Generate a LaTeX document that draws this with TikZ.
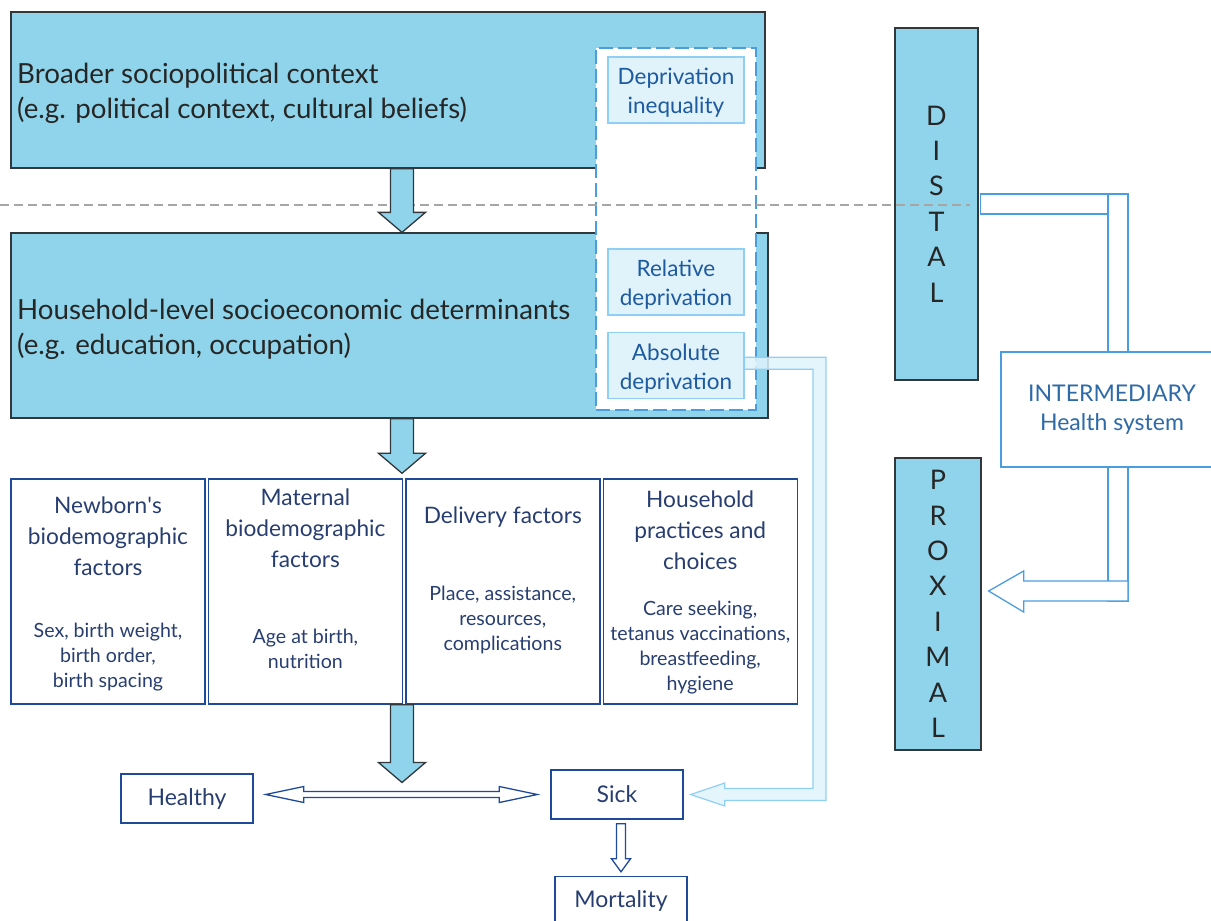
\documentclass[tikz,border=0pt]{standalone}
\usepackage{fontspec}
\setmainfont{Lato}
\usetikzlibrary{positioning, calc}

\definecolor{skyfill}{RGB}{143,212,234}
\definecolor{paleblue}{RGB}{224,243,251}
\definecolor{paleedge}{RGB}{144,207,245}
\definecolor{navy}{RGB}{31,74,154}
\definecolor{navytext}{RGB}{40,62,112}
\definecolor{midblue}{RGB}{74,158,224}
\definecolor{deptext}{RGB}{30,90,160}
\definecolor{intertext}{RGB}{46,106,168}
\definecolor{darkedge}{RGB}{50,55,60}

\newcommand{\fatdown}[2]{%
  \draw[fatarrow] let \p1=#1, \p2=#2 in
    (\x1-11.5pt,\y1) -- (\x1-11.5pt,\y2+20pt) -- (\x1-23.5pt,\y2+20pt) -- (\x1,\y2)
    -- (\x1+23.5pt,\y2+20pt) -- (\x1+11.5pt,\y2+20pt) -- (\x1+11.5pt,\y1) -- cycle;}

\begin{document}
\begin{tikzpicture}[x=1pt, y=-1pt,
  bigbox/.style={draw=darkedge, fill=skyfill, line width=1.3pt, inner sep=0pt},
  bigtext/.style={text=black!85, font=\fontsize{27.7}{35}\selectfont, align=left, inner sep=0pt},
  depbox/.style={draw=paleedge, fill=paleblue, line width=1.2pt, minimum width=136pt, minimum height=66pt,
    text=deptext, align=center, font=\fontsize{22.5}{29}\selectfont, inner sep=0pt},
  deptxt/.style={text=deptext, align=center, font=\fontsize{22.5}{29}\selectfont, inner sep=0pt},
  factbox/.style={draw=navy, line width=1.4pt, minimum width=194pt, minimum height=225pt, inner sep=0pt},
  facttitle/.style={text=navytext, align=center, font=\fontsize{22.7}{31}\selectfont, inner sep=0pt},
  factsub/.style={text=navytext, align=center, font=\fontsize{19.6}{25}\selectfont, inner sep=0pt},
  statebox/.style={draw=navy, line width=1.4pt, minimum width=132pt, minimum height=49pt,
    text=navytext, font=\fontsize{23}{26}\selectfont},
  levelbar/.style={draw=darkedge, fill=skyfill, line width=1.3pt, text=black!85, align=center,
    font=\fontsize{27}{35.4}\selectfont},
  fatarrow/.style={draw=darkedge, fill=skyfill, line width=1.3pt},
  hollow/.style={draw=navy, fill=white, line width=1.3pt},
  healtharrow/.style={draw=midblue, fill=white, line width=1.3pt},
  paleconn/.style={draw=paleedge, fill=paleblue, fill opacity=.85, line width=1.2pt}]

\useasboundingbox (0,0) rectangle (1211,921);

\coordinate (ax) at (402,0);
\coordinate (turnx) at (819.5,0);
\coordinate (vx) at (1118,0);

\node[bigbox, minimum width=754pt, minimum height=156pt] (broad) at (388,90) {};
\node[bigtext, anchor=west] (broadtxt) at (17,93.5) {Broader sociopolitical context\\(e.g. political context, cultural beliefs)};
\node[bigbox, minimum width=757pt, minimum height=185pt] (house) at (389.5,325.5) {};
\node[bigtext, anchor=west] (housetxt) at (17,329.5) {Household-level socioeconomic determinants\\(e.g. education, occupation)};

\node[draw=midblue, dash pattern=on 14pt off 5pt, line width=1.6pt, fill=white,
  minimum width=160pt, minimum height=362pt] (depframe) at (676,229) {};
\node[depbox] (ineq) at (676,90) {};
\node[depbox] (rel) at (676,282) {};
\node[depbox, below=16pt of rel] (abs) {};
\node[deptxt] (ineqtxt) at ($(ineq)+(0,3)$) {Deprivation\\inequality};
\node[deptxt] (reltxt) at ($(rel)+(0,3)$) {Relative\\deprivation};
\node[deptxt] (abstxt) at ($(abs)+(0,3)$) {Absolute\\deprivation};

\node[levelbar, minimum width=83pt, minimum height=352pt] (distal) at (936.5,204) {D\\I\\S\\T\\A\\L};
\node[levelbar, minimum width=86pt, minimum height=292pt] (proximal) at (938,604) {P\\R\\O\\X\\I\\M\\A\\L};

\draw[gray!70, dashed, dash pattern=on 9pt off 5pt, line width=1.2pt] (0,205) -- (970,205);

\node[factbox] (f1) at (108,591.5) {};
\node[factbox, right=2pt of f1] (f2) {};
\node[factbox, right=2pt of f2] (f3) {};
\node[factbox, right=2pt of f3] (f4) {};
\node[facttitle] (t1) at ($(f1.north)+(0,58)$) {Newborn\textquotesingle s\\biodemographic\\factors};
\node[factsub] (s1) at ($(f1.north)+(0,179)$) {Sex, birth weight,\\birth order,\\birth spacing};
\node[facttitle] (t2) at ($(f2.north)+(0,50)$) {Maternal\\biodemographic\\factors};
\node[factsub] (s2) at ($(f2.north)+(0,171)$) {Age at birth,\\nutrition};
\node[facttitle] (t3) at ($(f3.north)+(0,39)$) {Delivery factors};
\node[factsub] (s3) at ($(f3.north)+(0,142)$) {Place, assistance,\\resources,\\complications};
\node[facttitle] (t4) at ($(f4.north)+(0,52)$) {Household\\practices and\\choices};
\node[factsub] (s4) at ($(f4.north)+(0,169)$) {Care seeking,\\tetanus vaccinations,\\breastfeeding,\\hygiene};

\node[statebox] (healthy) at (187,798.5) {Healthy};
\node[statebox] (sick) at (617,794.5) {Sick};
\node[statebox] (mort) at (621,901) {Mortality};

\fatdown{(broad.south -| ax)}{(house.north -| ax)}
\fatdown{(house.south -| ax)}{($(f2.north -| ax)+(0,-5)$)}
\fatdown{(f2.south -| ax)}{($(sick.west -| ax)+(0,-12)$)}

\draw[hollow] let \p1=($(healthy.east)+(12,0)$), \p2=($(sick.west)+(-13,0)$) in
  (\x1,\y2) -- (\x1+38pt,\y2+8pt) -- (\x1+38pt,\y2+3pt) -- (\x2-38pt,\y2+3pt) -- (\x2-38pt,\y2+8pt)
  -- (\x2,\y2) -- (\x2-38pt,\y2-8pt) -- (\x2-38pt,\y2-3pt) -- (\x1+38pt,\y2-3pt) -- (\x1+38pt,\y2-8pt) -- cycle;
\draw[hollow] let \p1=($(sick.south -| mort.north)+(0,4)$), \p2=($(mort.north)+(0,-4)$) in
  (\x1-4.5pt,\y1) -- (\x1-4.5pt,\y2+13pt) -- (\x1-9.5pt,\y2+13pt) -- (\x2,\y2)
  -- (\x1+9.5pt,\y2+13pt) -- (\x1+4.5pt,\y2+13pt) -- (\x1+4.5pt,\y1) -- cycle;

\draw[paleconn] let \p1=($(abs.east)+(0,-2)$), \p2=($(sick.east)+(7,0)$), \p3=(turnx) in
  (\x1,\y1+6pt) -- (\x3+6.5pt,\y1+6pt) -- (\x3+6.5pt,\y2-6pt) -- (\x2+34pt,\y2-6pt) -- (\x2+34pt,\y2-11.5pt)
  -- (\x2,\y2) -- (\x2+34pt,\y2+11.5pt) -- (\x2+34pt,\y2+6pt) -- (\x3-6.5pt,\y2+6pt) -- (\x3-6.5pt,\y1-6pt)
  -- (\x1,\y1-6pt) -- cycle;

\node[draw=midblue, line width=1.3pt, fill=white, minimum width=222pt, minimum height=115pt,
  text=intertext, align=center, font=\fontsize{23}{29}\selectfont] (inter) at (1112,409.5) {INTERMEDIARY\\Health system};

\draw[healtharrow] let \p1=(distal.east), \p2=(inter.north -| vx) in
  (\x1+2pt,\y1+10pt) rectangle (\x2-10pt,\y1-10pt)
  (\x2-10pt,\y1+10pt) rectangle (\x2+10pt,\y2);
\draw[healtharrow] let \p1=(inter.south -| vx), \p2=($(proximal.east)+(7,-13)$) in
  (\x1-10pt,\y1) rectangle (\x1+10pt,\y2-10pt);
\draw[healtharrow] let \p1=(inter.south -| vx), \p2=($(proximal.east)+(7,-13)$) in
  (\x1+10pt,\y2+10pt) -- (\x2+35pt,\y2+10pt) -- (\x2+35pt,\y2+20pt) -- (\x2,\y2)
  -- (\x2+35pt,\y2-21pt) -- (\x2+35pt,\y2-10pt) -- (\x1+10pt,\y2-10pt) -- cycle;

\end{tikzpicture}
\end{document}
